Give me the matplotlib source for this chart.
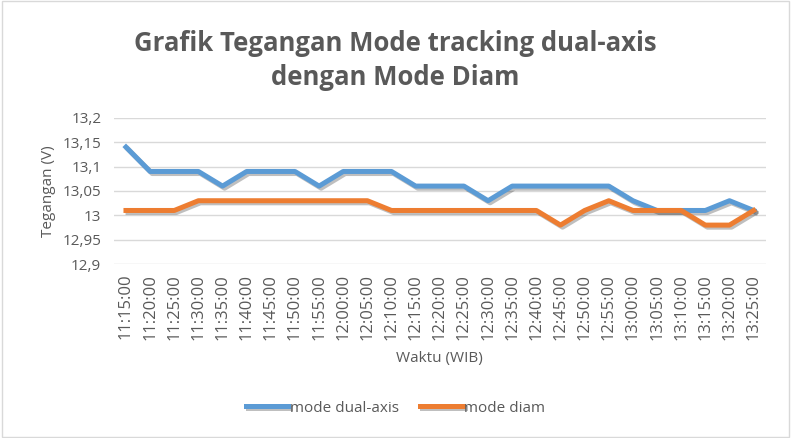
import matplotlib
matplotlib.use("Agg")
import matplotlib.pyplot as plt
import matplotlib.patheffects as pe
from matplotlib.patches import Rectangle

# data
times = ["11:15:00", "11:20:00", "11:25:00", "11:30:00", "11:35:00", "11:40:00",
         "11:45:00", "11:50:00", "11:55:00", "12:00:00", "12:05:00", "12:10:00",
         "12:15:00", "12:20:00", "12:25:00", "12:30:00", "12:35:00", "12:40:00",
         "12:45:00", "12:50:00", "12:55:00", "13:00:00", "13:05:00", "13:10:00",
         "13:15:00", "13:20:00", "13:25:00"]
dual_axis = [13.14, 13.09, 13.09, 13.09, 13.06, 13.09, 13.09, 13.09, 13.06,
             13.09, 13.09, 13.09, 13.06, 13.06, 13.06, 13.03, 13.06, 13.06,
             13.06, 13.06, 13.06, 13.03, 13.01, 13.01, 13.01, 13.03, 13.01]
diam = [13.01, 13.01, 13.01, 13.03, 13.03, 13.03, 13.03, 13.03, 13.03,
        13.03, 13.03, 13.01, 13.01, 13.01, 13.01, 13.01, 13.01, 13.01,
        12.98, 13.01, 13.03, 13.01, 13.01, 13.01, 12.98, 12.98, 13.01]
y_ticks = [12.9, 12.95, 13.0, 13.05, 13.1, 13.15, 13.2]
y_labels = ["12,9", "12,95", "13", "13,05", "13,1", "13,15", "13,2"]

plt.rcParams['font.family'] = ['Open Sans', 'DejaVu Sans']
grey = '#595959'

fig = plt.figure(figsize=(7.91, 4.38), dpi=100)
ax = fig.add_axes([0.144, 0.397, 0.824, 0.334])

shadow = [pe.SimpleLineShadow(offset=(1.5, -1.5), alpha=0.25, shadow_color='black'), pe.Normal()]
x = range(len(times))
ax.plot(x, dual_axis, color='#5B9BD5', lw=3.6, label='mode dual-axis',
        solid_joinstyle='round', path_effects=shadow, zorder=3)
ax.plot(x, diam, color='#ED7D31', lw=3.6, label='mode diam',
        solid_joinstyle='round', path_effects=shadow, zorder=3)

ax.set_xlim(-0.5, len(times) - 0.5)
ax.set_ylim(12.9, 13.2)
ax.set_yticks(y_ticks)
ax.set_yticklabels(y_labels)
ax.set_xticks(list(x))
ax.set_xticklabels(times, rotation=90)
ax.tick_params(length=0, colors=grey)
ax.tick_params(axis='y', labelsize=11, pad=9)
ax.tick_params(axis='x', labelsize=12, pad=7)
ax.grid(axis='y', color='#D9D9D9', lw=1)
ax.set_axisbelow(True)
for s in ax.spines.values():
    s.set_visible(False)

ax.set_ylabel('Tegangan (V)', color=grey, fontsize=11, labelpad=5)
ax.set_xlabel('Waktu (WIB)', color=grey, fontsize=11, labelpad=8)

fig.text(0.5, 0.862, 'Grafik Tegangan Mode tracking dual-axis\ndengan Mode Diam',
         ha='center', va='center', fontsize=18.5, fontweight='bold', color=grey,
         linespacing=1.35)

leg = fig.legend(loc='center', bbox_to_anchor=(0.5, 0.068), ncol=2, frameon=False,
                 fontsize=11, handlelength=2.8, handletextpad=0.1, columnspacing=1.4)
for t in leg.get_texts():
    t.set_color(grey)

fig.patches.append(Rectangle((0.002, 0.003), 0.996, 0.994, transform=fig.transFigure,
                             fill=False, edgecolor='#D9D9D9', lw=1))

fig.savefig('out.png', dpi=100)
